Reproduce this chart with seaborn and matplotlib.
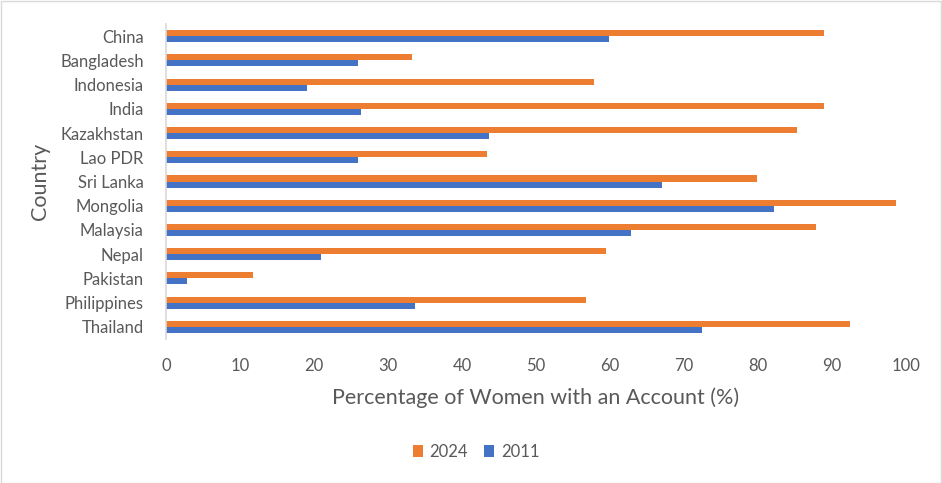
import matplotlib
matplotlib.use("Agg")
import matplotlib.pyplot as plt
import seaborn as sns
import pandas as pd
from matplotlib.patches import Rectangle

countries = ["China", "Bangladesh", "Indonesia", "India", "Kazakhstan", "Lao PDR",
             "Sri Lanka", "Mongolia", "Malaysia", "Nepal", "Pakistan", "Philippines", "Thailand"]
values_2024 = [88.9, 33.2, 57.8, 88.9, 85.3, 43.4, 79.9, 98.6, 87.9, 59.5, 11.8, 56.8, 92.4]
values_2011 = [59.8, 25.9, 19.1, 26.4, 43.6, 26.0, 67.0, 82.1, 62.8, 21.0, 2.9, 33.6, 72.4]
years = ["2024", "2011"]
x_ticks = [0, 10, 20, 30, 40, 50, 60, 70, 80, 90, 100]

df = pd.DataFrame({
    "Country": countries * 2,
    "Value": values_2024 + values_2011,
    "Year": ["2024"] * len(countries) + ["2011"] * len(countries),
})

sns.set_theme(style="white")
plt.rcParams["font.family"] = ["Lato", "DejaVu Sans"]

fig = plt.figure(figsize=(9.42, 4.83), dpi=100)
ax = fig.add_axes([166/942, 1 - 339/483, 740/942, 315/483])

palette = {"2024": "#ED7D31", "2011": "#4472C4"}
sns.barplot(data=df, y="Country", x="Value", hue="Year", hue_order=years,
            order=countries, palette=palette, width=0.5, orient="h",
            saturation=1, ax=ax, legend=True, linewidth=0, gap=0)

ax.set_xlim(0, 100)
ax.set_xticks(x_ticks)
ax.set_xticklabels([str(t) for t in x_ticks])
for s in ["top", "right", "bottom"]:
    ax.spines[s].set_visible(False)
ax.spines["left"].set_color("#d9d9d9")
ax.spines["left"].set_linewidth(1.2)
ax.tick_params(axis="x", length=0, pad=14, labelsize=12, labelcolor="#595959")
ax.tick_params(axis="y", length=0, pad=16, labelsize=12, labelcolor="#595959")
ax.set_xlabel("Percentage of Women with an Account (%)", fontsize=15.5, color="#595959", labelpad=9)
ax.set_ylabel("Country", fontsize=15.5, color="#595959", labelpad=7)
ax.grid(False)

handles, labels = ax.get_legend_handles_labels()
ax.get_legend().remove()
fig.legend(handles, labels, loc="center", bbox_to_anchor=(476/942, 1 - 452/483),
           ncol=2, frameon=False, fontsize=12, handlelength=0.6, handleheight=0.7,
           handletextpad=0.4, columnspacing=1.0, labelcolor="#595959")

fig.patches.append(Rectangle((0.001, 0.001), 0.998, 0.997, transform=fig.transFigure,
                             fill=False, edgecolor="#d9d9d9", linewidth=1))

fig.savefig("out.png", dpi=100)
